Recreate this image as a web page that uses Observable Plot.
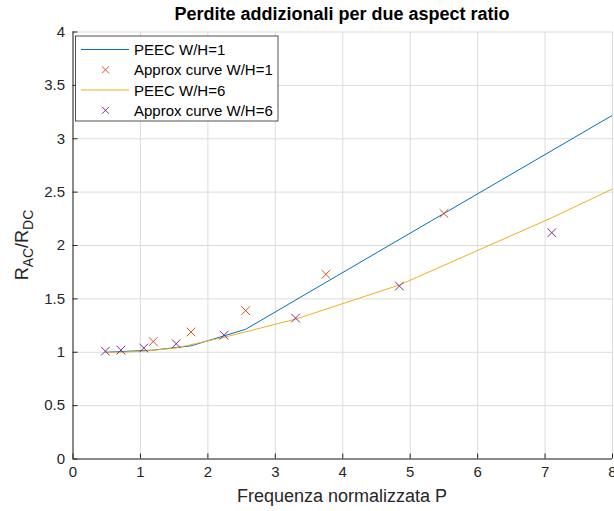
<!DOCTYPE html>
<html><head><meta charset="utf-8">
<script src="https://cdn.jsdelivr.net/npm/d3@7"></script>
<script src="https://cdn.jsdelivr.net/npm/@observablehq/plot@0.6"></script>
<style>body{margin:0;background:#fff} svg{display:block}</style>
</head><body><div id="chart"></div>
<script>
// Data
const peec1P = [0.48, 1.19, 1.75, 2.56, 3.75, 5.5, 8.0];
const peec1R = [1.0, 1.02, 1.06, 1.215, 1.655, 2.30, 3.22];
const approx1P = [1.19, 1.75, 2.56, 3.75, 5.5];
const approx1R = [1.10, 1.19, 1.39, 1.73, 2.30];
const peec6P = [0.48, 0.71, 1.05, 1.53, 2.24, 3.30, 4.84, 7.10, 8.0];
const peec6R = [1.0, 1.0, 1.01, 1.04, 1.14, 1.31, 1.63, 2.26, 2.53];
const approx6P = [0.48, 0.71, 1.05, 1.53, 2.24, 3.30, 4.84, 7.10];
const approx6R = [1.01, 1.02, 1.04, 1.08, 1.16, 1.32, 1.62, 2.12];
const xTicks = [0, 1, 2, 3, 4, 5, 6, 7, 8];
const yTicks = [0, 0.5, 1, 1.5, 2, 2.5, 3, 3.5, 4];
const seriesNames = ["PEEC W/H=1", "Approx curve W/H=1", "PEEC W/H=6", "Approx curve W/H=6"];
const colors = ["#0072BD", "#D95319", "#EDB120", "#7E2F8E"];

const zip = (xs, ys) => xs.map((x, i) => ({P: x, R: ys[i]}));
const peec1 = zip(peec1P, peec1R), approx1 = zip(approx1P, approx1R);
const peec6 = zip(peec6P, peec6R), approx6 = zip(approx6P, approx6R);

const font = "'Liberation Sans', Arial, Helvetica, sans-serif";
const axisColor = "#262626";

const plot = Plot.plot({
  width: 614, height: 511,
  marginLeft: 72.5, marginRight: 2, marginTop: 31.5, marginBottom: 52.5,
  style: {fontFamily: font, fontSize: "15px", color: axisColor, background: "#fff", overflow: "visible"},
  x: {domain: [0, 8], ticks: xTicks},
  y: {domain: [0, 4], ticks: yTicks},
  marks: [
    Plot.gridX(xTicks, {stroke: "#dcdcdc", strokeOpacity: 1}),
    Plot.gridY(yTicks, {stroke: "#dcdcdc", strokeOpacity: 1}),
    Plot.line(peec1, {x: "P", y: "R", stroke: colors[0], strokeWidth: 1, clip: true}),
    Plot.line(peec6, {x: "P", y: "R", stroke: colors[2], strokeWidth: 1, clip: true}),
    Plot.dot(approx1, {x: "P", y: "R", symbol: "times", r: 4, stroke: colors[1], strokeWidth: 1}),
    Plot.dot(approx6, {x: "P", y: "R", symbol: "times", r: 4, stroke: colors[3], strokeWidth: 1}),
    Plot.axisX(xTicks, {anchor: "bottom", tickSize: -5, tickPadding: 12, tickFormat: d => String(d), label: null, stroke: axisColor, fill: axisColor, fontSize: 15}),
    Plot.axisY(yTicks, {anchor: "left", tickSize: -5, tickPadding: 13, tickFormat: d => String(d), label: null, stroke: axisColor, fill: axisColor, fontSize: 15}),
    Plot.ruleX([0], {stroke: axisColor}),
    Plot.ruleY([0], {stroke: axisColor})
  ]
});
document.getElementById("chart").appendChild(plot);

const svg = d3.select(plot);
// Title
svg.append("text").attr("x", 342).attr("y", 20).attr("text-anchor", "middle")
  .attr("font-family", font).attr("font-weight", "bold").attr("font-size", 18).attr("fill", "#000")
  .text("Perdite addizionali per due aspect ratio");
// X label
svg.append("text").attr("x", 342).attr("y", 502).attr("text-anchor", "middle")
  .attr("font-family", font).attr("font-size", 18).attr("fill", axisColor)
  .text("Frequenza normalizzata P");
// Y label with subscripts
const yl = svg.append("text").attr("transform", "translate(28,245) rotate(-90)").attr("text-anchor", "middle")
  .attr("font-family", font).attr("font-size", 18).attr("fill", axisColor);
yl.append("tspan").text("R");
yl.append("tspan").attr("font-size", 14).attr("dy", 5).text("AC");
yl.append("tspan").attr("dy", -5).text("/R");
yl.append("tspan").attr("font-size", 14).attr("dy", 5).text("DC");

// Legend
const lg = svg.append("g").attr("font-family", font).attr("font-size", 15).attr("text-anchor", "start");
lg.append("rect").attr("x", 75.5).attr("y", 36).attr("width", 202.5).attr("height", 85)
  .attr("fill", "#fff").attr("stroke", axisColor).attr("stroke-width", 0.8);
const rowY = [49.5, 69.8, 90, 110.3];
seriesNames.forEach((name, i) => {
  const y = rowY[i];
  if (i % 2 === 0) {
    lg.append("line").attr("x1", 81).attr("x2", 129).attr("y1", y).attr("y2", y)
      .attr("stroke", colors[i]).attr("stroke-width", 1);
  } else {
    const s = 3.5;
    lg.append("path").attr("d", `M${105.5 - s},${y - s}L${105.5 + s},${y + s}M${105.5 - s},${y + s}L${105.5 + s},${y - s}`)
      .attr("stroke", colors[i]).attr("stroke-width", 1).attr("fill", "none");
  }
  lg.append("text").attr("x", 134).attr("y", y + 5.5).attr("fill", "#000").text(name);
});
</script>
</body></html>
